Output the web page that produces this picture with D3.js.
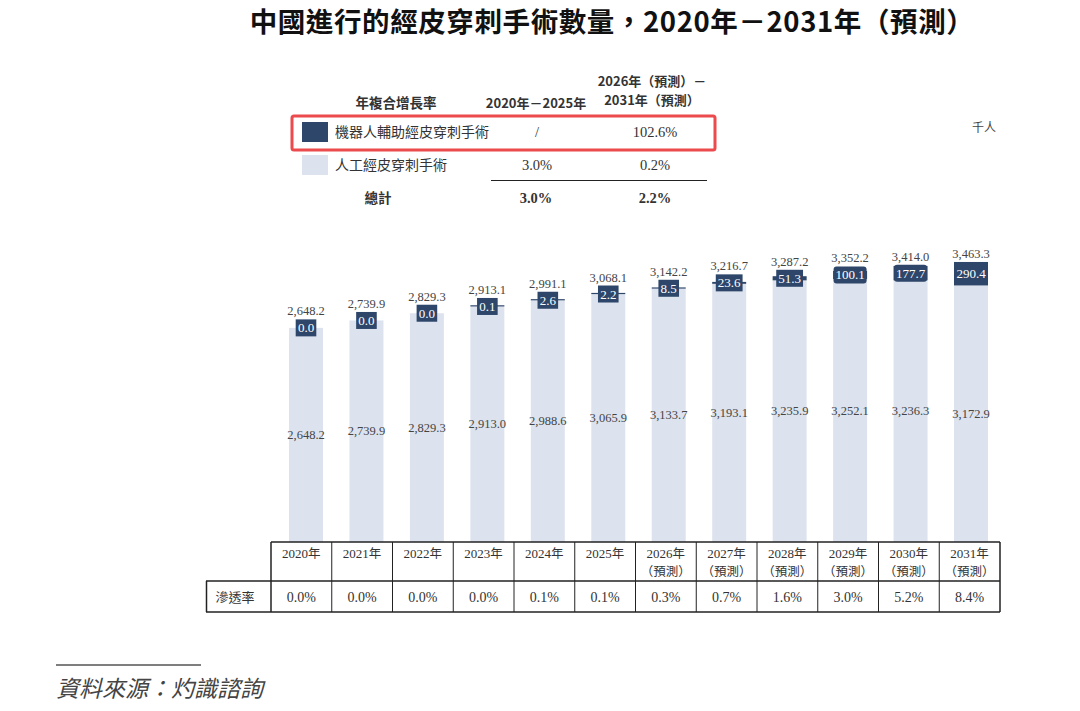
<!DOCTYPE html>
<html>
<head>
<meta charset="utf-8">
<script src="https://cdn.jsdelivr.net/npm/d3@7"></script>
<style>
  body { margin: 0; background: #fff; }
  svg { display: block; }
</style>
</head>
<body>
<div id="chart"></div>
<script>
// data
var years = ["2020","2021","2022","2023","2024","2025","2026","2027","2028","2029","2030","2031"];
var forecast = [false,false,false,false,false,false,true,true,true,true,true,true];
var robotVals = [0.0,0.0,0.0,0.1,2.6,2.2,8.5,23.6,51.3,100.1,177.7,290.4];
var manualVals = [2648.2,2739.9,2829.3,2913.0,2988.6,3065.9,3133.7,3193.1,3235.9,3252.1,3236.3,3172.9];
var totals = [2648.2,2739.9,2829.3,2913.1,2991.1,3068.1,3142.2,3216.7,3287.2,3352.2,3414.0,3463.3];
var penetration = ["0.0%","0.0%","0.0%","0.0%","0.1%","0.1%","0.3%","0.7%","1.6%","3.0%","5.2%","8.4%"];

var legendNames = ["機器人輔助經皮穿刺手術","人工經皮穿刺手術"];
var cagr1 = ["/","3.0%"];
var cagr2 = ["102.6%","0.2%"];
var cagrTotal = ["3.0%","2.2%"];

var W = 1080, H = 711;
var dark = "#2d4669", light = "#dde3ee";
var cjk = "'Noto Sans CJK TC','Noto Sans CJK SC',sans-serif";
var serif = "'Liberation Serif','Times New Roman',serif";

var svg = d3.select("#chart").append("svg")
    .attr("width", W)
    .attr("height", H);

// title
svg.append("text")
    .attr("x", 612).attr("y", 32)
    .attr("text-anchor", "middle")
    .attr("font-family", cjk)
    .attr("font-size", 27.5)
    .attr("letter-spacing", 0.6)
    .attr("font-weight", "bold")
    .attr("fill", "#111")
    .text("中國進行的經皮穿刺手術數量，2020年－2031年（預測）");

// legend / CAGR table
var lg = svg.append("g").attr("font-family", cjk).attr("fill", "#333");
lg.append("text").attr("x", 396).attr("y", 108).attr("text-anchor", "middle")
    .attr("font-size", 13.5).attr("font-weight", "bold").text("年複合增長率");
lg.append("text").attr("x", 536).attr("y", 108).attr("text-anchor", "middle")
    .attr("font-size", 13).attr("font-weight", "bold").text("2020年－2025年");
lg.append("text").attr("x", 652).attr("y", 86).attr("text-anchor", "middle")
    .attr("font-size", 13).attr("font-weight", "bold").text("2026年（預測）－");
lg.append("text").attr("x", 652).attr("y", 105).attr("text-anchor", "middle")
    .attr("font-size", 13).attr("font-weight", "bold").text("2031年（預測）");

var rowY = [132, 165];
legendNames.forEach(function(name, i) {
  lg.append("rect").attr("x", 302).attr("y", rowY[i] - 10).attr("width", 26).attr("height", 20)
      .attr("fill", i === 0 ? dark : light);
  lg.append("text").attr("x", 335).attr("y", rowY[i] + 5).attr("font-size", 14).text(name);
  lg.append("text").attr("x", 537).attr("y", rowY[i] + 5).attr("text-anchor", "middle")
      .attr("font-family", serif).attr("font-size", 14.5).text(cagr1[i]);
  lg.append("text").attr("x", 655).attr("y", rowY[i] + 5).attr("text-anchor", "middle")
      .attr("font-family", serif).attr("font-size", 14.5).text(cagr2[i]);
});
lg.append("line").attr("x1", 491).attr("x2", 707).attr("y1", 180.5).attr("y2", 180.5)
    .attr("stroke", "#222").attr("stroke-width", 1.2);
lg.append("text").attr("x", 378).attr("y", 203).attr("text-anchor", "middle")
    .attr("font-size", 13.5).attr("font-weight", "bold").text("總計");
lg.append("text").attr("x", 536).attr("y", 203).attr("text-anchor", "middle")
    .attr("font-family", serif).attr("font-size", 14.5).attr("font-weight", "bold").text(cagrTotal[0]);
lg.append("text").attr("x", 655).attr("y", 203).attr("text-anchor", "middle")
    .attr("font-family", serif).attr("font-size", 14.5).attr("font-weight", "bold").text(cagrTotal[1]);

// red highlight box
svg.append("rect")
    .attr("x", 292).attr("y", 116).attr("width", 423).attr("height", 34)
    .attr("rx", 2)
    .attr("fill", "none").attr("stroke", "#ec4a4c").attr("stroke-width", 3);

// unit
svg.append("text").attr("x", 984).attr("y", 132).attr("text-anchor", "middle")
    .attr("font-family", cjk).attr("font-size", 12).attr("fill", "#444").text("千人");

// scales
var base = 542;
var y = d3.scaleLinear().domain([0, 3500]).range([base, base - 283]);
var xc = d3.scalePoint().domain(years).range([306, 971]);
var barW = 34;
var cols = d3.scaleBand().domain(years).range([271, 1000]);

var bars = svg.append("g");
years.forEach(function(yr, i) {
  var cx = xc(yr);
  var mTop = y(manualVals[i]);
  var rTop = y(manualVals[i] + robotVals[i]);
  var g = bars.append("g");
  g.append("rect")
      .attr("x", cx - barW / 2).attr("y", mTop)
      .attr("width", barW).attr("height", base - mTop)
      .attr("fill", light);
  var segH = mTop - rTop;
  if (robotVals[i] > 0) {
    g.append("rect")
        .attr("x", cx - barW / 2).attr("y", mTop - Math.max(segH, 1.2))
        .attr("width", barW).attr("height", Math.max(segH, 1.2))
        .attr("fill", dark);
  }
  var segMid = (mTop + rTop) / 2;
  var lbl = robotVals[i].toFixed(1);
  if (segH < 17) {
    var bw = lbl.length * 6.2 + 2;
    g.append("rect")
        .attr("x", cx - bw / 2).attr("y", segMid - 8.5)
        .attr("width", bw).attr("height", 17)
        .attr("rx", lbl.length > 4 ? 3 : 0)
        .attr("fill", dark);
  }
  g.append("text")
      .attr("x", cx).attr("y", segMid + 4.5)
      .attr("text-anchor", "middle")
      .attr("font-family", serif).attr("font-size", 13)
      .attr("fill", "#fff")
      .text(lbl);
  // manual value inside bar
  g.append("text")
      .attr("x", cx).attr("y", (mTop + base) / 2 + 4)
      .attr("text-anchor", "middle")
      .attr("font-family", serif).attr("font-size", 12.5)
      .attr("fill", "#444")
      .text(d3.format(",.1f")(manualVals[i]));
  // total above bar
  g.append("text")
      .attr("x", cx).attr("y", Math.min(rTop, segMid - 8.5) - 4)
      .attr("text-anchor", "middle")
      .attr("font-family", serif).attr("font-size", 12.5)
      .attr("fill", "#444")
      .text(d3.format(",.1f")(totals[i]));
});

// bottom table
var tb = svg.append("g");
var r1 = 542, r2 = 581, r3 = 612;
tb.append("line").attr("x1", 271).attr("x2", 1000).attr("y1", r1).attr("y2", r1)
    .attr("stroke", "#222").attr("stroke-width", 1.5);
tb.append("line").attr("x1", 206).attr("x2", 1000).attr("y1", r2).attr("y2", r2)
    .attr("stroke", "#222").attr("stroke-width", 1.5);
tb.append("line").attr("x1", 206).attr("x2", 1000).attr("y1", r3).attr("y2", r3)
    .attr("stroke", "#222").attr("stroke-width", 1.5);
tb.append("line").attr("x1", 206.5).attr("x2", 206.5).attr("y1", r2).attr("y2", r3)
    .attr("stroke", "#222").attr("stroke-width", 1.5);
years.forEach(function(yr, i) {
  var x0 = cols(yr);
  tb.append("line").attr("x1", x0).attr("x2", x0).attr("y1", r1).attr("y2", r3)
      .attr("stroke", "#222").attr("stroke-width", i === 0 ? 1.5 : 1);
  var cx = x0 + cols.bandwidth() / 2;
  tb.append("text").attr("x", cx).attr("y", 558)
      .attr("text-anchor", "middle").attr("fill", "#333")
      .attr("font-size", 13)
      .call(function(t) {
        t.append("tspan").attr("font-family", serif).text(yr);
        t.append("tspan").attr("font-family", cjk).attr("font-size", 12.5).text("年");
      });
  if (forecast[i]) {
    tb.append("text").attr("x", cx).attr("y", 576)
        .attr("text-anchor", "middle").attr("fill", "#333")
        .attr("font-family", cjk).attr("font-size", 12.5)
        .text("（預測）");
  }
  tb.append("text").attr("x", cx).attr("y", 602)
      .attr("text-anchor", "middle").attr("fill", "#333")
      .attr("font-family", serif).attr("font-size", 14)
      .text(penetration[i]);
});
tb.append("line").attr("x1", 1000).attr("x2", 1000).attr("y1", r1).attr("y2", r3)
    .attr("stroke", "#222").attr("stroke-width", 1.5);
tb.append("text").attr("x", 235).attr("y", 602)
    .attr("text-anchor", "middle").attr("fill", "#333")
    .attr("font-family", cjk).attr("font-size", 13)
    .text("滲透率");

// source
svg.append("line").attr("x1", 56).attr("x2", 201).attr("y1", 665).attr("y2", 665)
    .attr("stroke", "#555").attr("stroke-width", 1.5);
svg.append("text").attr("x", 56).attr("y", 697)
    .attr("font-family", cjk).attr("font-size", 23)
    .attr("font-style", "italic").attr("fill", "#444")
    .text("資料來源：灼識諮詢");
</script>
</body>
</html>
